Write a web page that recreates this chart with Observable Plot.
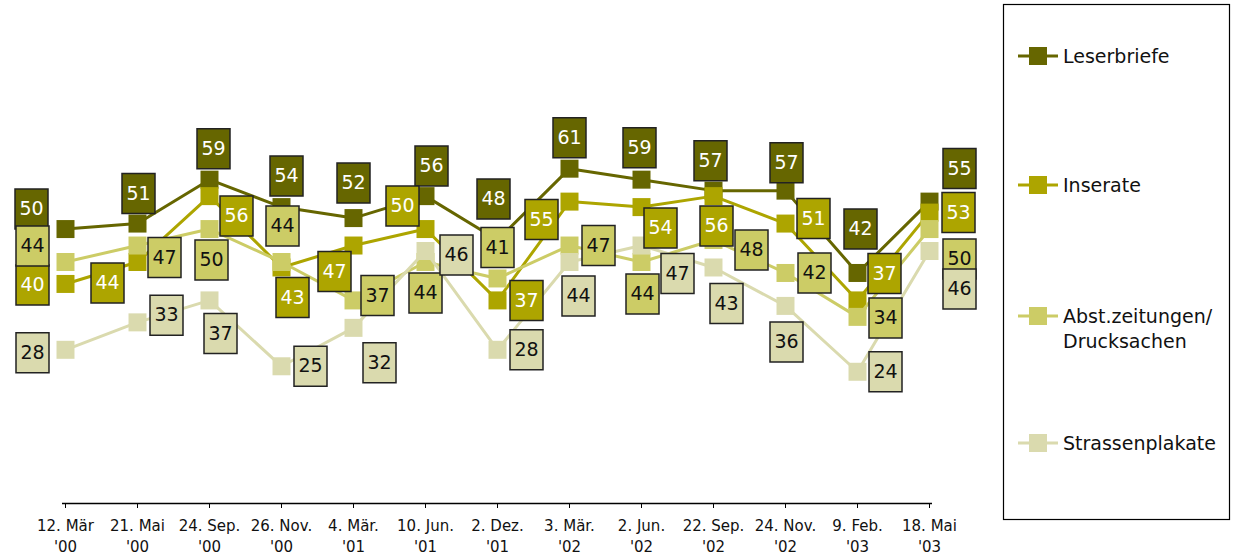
<!DOCTYPE html>
<html>
<head>
<meta charset="utf-8">
<script src="https://cdn.jsdelivr.net/npm/d3@7"></script>
<script src="https://cdn.jsdelivr.net/npm/@observablehq/plot@0.6"></script>
<style>
  html, body { margin: 0; padding: 0; background: #fff; }
  #wrap { position: relative; width: 1237px; height: 557px; overflow: hidden; }
  #legend { position: absolute; left: 0; top: 0; }
</style>
</head>
<body>
<div id="wrap"></div>
<script>
// ---- data ----
const dates = ["12. Mär", "21. Mai", "24. Sep.", "26. Nov.", "4. Mär.", "10. Jun.", "2. Dez.", "3. Mär.", "2. Jun.", "22. Sep.", "24. Nov.", "9. Feb.", "18. Mai"];
const years = ["'00", "'00", "'00", "'00", "'01", "'01", "'01", "'02", "'02", "'02", "'02", "'03", "'03"];

const leserbriefe     = [50, 51, 59, 54, 52, 56, 48, 61, 59, 57, 57, 42, 55];
const inserate        = [40, 44, 56, 43, 47, 50, 37, 55, 54, 56, 51, 37, 53];
const abstZeitungen   = [44, 47, 50, 44, 37, 44, 41, 47, 44, 48, 42, 34, 50];
const strassenplakate = [28, 33, 37, 25, 32, 46, 28, 44, 47, 43, 36, 24, 46];

const seriesNames = ["Leserbriefe", "Inserate", "Abst.zeitungen/\nDrucksachen", "Strassenplakate"];

// ---- styles ----
const colors = ["#666600", "#ADA500", "#CCCC66", "#DADAAE"];
const textColors = ["#ffffff", "#ffffff", "#111111", "#111111"];
// label box offsets (px) from each point: [dx, dy]
const labelOffsets = [
  [[-34,-20],[1,-30],[4,-31],[5,-31],[0,-35],[6,-30],[-4,-41],[0,-31],[-2,-32],[-3,-30],[1,-28],[3,-44],[30,-33]],
  [[-33,1],[-30,21],[27,20],[11,30],[-19,26],[-23,-23],[29,0],[-28,18],[19,21],[3,30],[28,-5],[27,-27],[29,0]],
  [[-33,-16],[27,12],[2,31],[1,-36],[24,-5],[0,31],[0,-31],[29,0],[1,32],[38,10],[29,0],[28,1],[30,30]],
  [[-33,3],[29,-7],[11,33],[29,0],[26,35],[31,4],[29,0],[9,34],[36,28],[13,36],[1,36],[28,0],[30,38]]
];

const keys = dates.map((d, i) => d + " " + years[i]);
const seriesValues = [leserbriefe, inserate, abstZeitungen, strassenplakate];
const rowsBySeries = seriesValues.map((vals, s) => vals.map((v, i) => ({key: keys[i], value: v, series: s, i})));

const markerSymbol = { draw(ctx) { ctx.rect(-9, -9, 18, 18); } };
const boxSymbol = { draw(ctx) { ctx.rect(-16.5, -20, 33, 40); } };

const marks = [];
rowsBySeries.forEach((rows, s) => {
  marks.push(Plot.line(rows, {x: "key", y: "value", stroke: colors[s], strokeWidth: 3}));
  marks.push(Plot.dot(rows, {x: "key", y: "value", symbol: markerSymbol, fill: colors[s]}));
});
rowsBySeries.forEach((rows, s) => {
  rows.forEach((row, i) => {
    const [dx, dy] = labelOffsets[s][i];
    marks.push(Plot.dot([row], {x: "key", y: "value", dx, dy, symbol: boxSymbol, fill: colors[s], stroke: "#222", strokeWidth: 1.5}));
    marks.push(Plot.text([row], {x: "key", y: "value", dx, dy, text: d => String(d.value), fill: textColors[s], fontSize: 19}));
  });
});
marks.push(Plot.ruleY([0], {stroke: "#000", strokeWidth: 1.5}));
marks.push(Plot.axisX({tickSize: 5, tickPadding: 12, fontSize: 15, stroke: "#000", fill: "#111", label: null, tickFormat: d => dates[keys.indexOf(d)]}));
marks.push(Plot.axisX({tickSize: 0, tickPadding: 38, fontSize: 15, fill: "#111", label: null, tickFormat: d => years[keys.indexOf(d)]}));

const chart = Plot.plot({
  width: 1237,
  height: 557,
  marginLeft: 62,
  marginRight: 305,
  marginTop: 9,
  marginBottom: 54,
  style: {fontFamily: "DejaVu Sans, sans-serif", background: "transparent", overflow: "visible"},
  x: {type: "point", domain: keys, padding: 0, axis: null, label: null},
  y: {domain: [0, 90], axis: null},
  marks
});
const wrap = document.getElementById("wrap");
wrap.appendChild(chart);

// ---- legend ----
const legendY = [56, 185, 316, 443];
const lg = d3.select(wrap).append("svg").attr("id", "legend").attr("width", 1237).attr("height", 557)
  .style("font-family", "DejaVu Sans, sans-serif");
lg.append("rect").attr("x", 1003.5).attr("y", 4.5).attr("width", 226).attr("height", 515)
  .attr("fill", "none").attr("stroke", "#000").attr("stroke-width", 1.2);
seriesNames.forEach((name, s) => {
  const y = legendY[s];
  lg.append("line").attr("x1", 1018).attr("x2", 1058).attr("y1", y).attr("y2", y)
    .attr("stroke", colors[s]).attr("stroke-width", 3);
  lg.append("rect").attr("x", 1029).attr("y", y - 9).attr("width", 18).attr("height", 18).attr("fill", colors[s]);
  const t = lg.append("text").attr("x", 1063).attr("y", y).attr("font-size", 19).attr("fill", "#111")
    .attr("dominant-baseline", "central");
  name.split("\n").forEach((line, k) => {
    t.append("tspan").attr("x", 1063).attr("dy", k === 0 ? 0 : 25).text(line);
  });
});
</script>
</body>
</html>
